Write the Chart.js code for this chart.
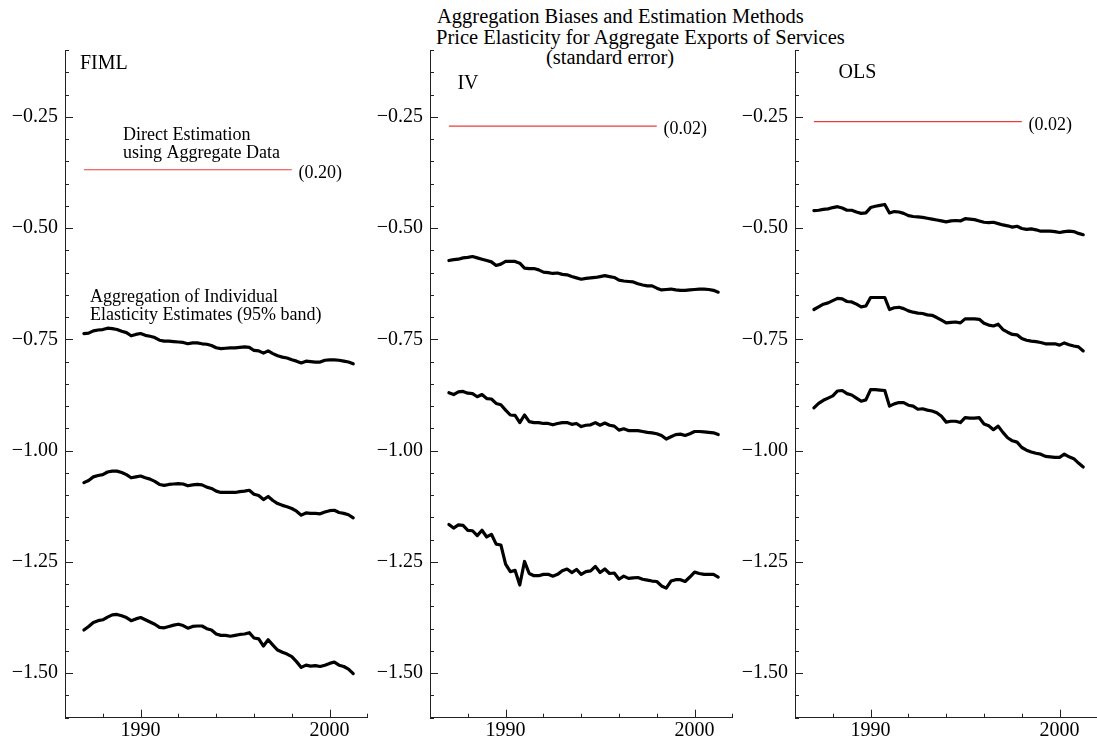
<!DOCTYPE html>
<html>
<head>
<meta charset="utf-8">
<title>Aggregation Biases and Estimation Methods</title>
<script src="https://cdn.jsdelivr.net/npm/chart.js@4.4.0/dist/chart.umd.min.js"></script>
<style>
  html, body { margin: 0; padding: 0; background: #fff; }
  body { width: 1097px; height: 749px; position: relative; overflow: hidden;
         font-family: "Liberation Serif", "Times New Roman", serif; color: #000; }
  canvas { position: absolute; top: 0; }
  .title { position: absolute; font-size: 20.5px; line-height: 20.5px; white-space: nowrap; }
</style>
</head>
<body>
<div class="title" style="left:437px; top:6px">Aggregation Biases and Estimation Methods</div>
<div class="title" style="left:436px; top:26.5px">Price Elasticity for Aggregate Exports of Services</div>
<div class="title" style="left:546px; top:47px">(standard error)</div>

<canvas id="fiml" width="369" height="749" style="left:0px"></canvas>
<canvas id="iv" width="369" height="749" style="left:364.5px"></canvas>
<canvas id="ols" width="369" height="749" style="left:730px"></canvas>

<script>
// quarterly observations, 1987Q1 .. 2001Q2
const quarters = Array.from({ length: 58 }, (_, i) => 1987 + i * 0.25);

// FIML: aggregation of individual estimates (upper / centre / lower of 95% band)
const fimlUpper = [-0.737,-0.736,-0.731,-0.729,-0.728,-0.725,-0.726,-0.728,-0.732,-0.735,
  -0.742,-0.739,-0.737,-0.741,-0.743,-0.746,-0.752,-0.754,-0.754,-0.755,
  -0.756,-0.757,-0.760,-0.758,-0.758,-0.760,-0.761,-0.764,-0.769,-0.771,
  -0.770,-0.769,-0.769,-0.768,-0.767,-0.768,-0.775,-0.776,-0.781,-0.776,
  -0.782,-0.787,-0.790,-0.792,-0.796,-0.799,-0.803,-0.799,-0.800,-0.801,
  -0.801,-0.797,-0.796,-0.796,-0.797,-0.799,-0.801,-0.805];
const fimlMid = [-1.072,-1.067,-1.059,-1.056,-1.054,-1.048,-1.046,-1.046,-1.049,-1.054,
  -1.061,-1.059,-1.057,-1.061,-1.064,-1.069,-1.076,-1.078,-1.076,-1.075,
  -1.074,-1.075,-1.079,-1.077,-1.076,-1.077,-1.082,-1.085,-1.091,-1.094,
  -1.094,-1.094,-1.094,-1.092,-1.091,-1.089,-1.098,-1.101,-1.110,-1.103,
  -1.112,-1.119,-1.123,-1.126,-1.130,-1.136,-1.145,-1.140,-1.141,-1.141,
  -1.142,-1.138,-1.135,-1.134,-1.139,-1.141,-1.144,-1.151];
const fimlLower = [-1.403,-1.395,-1.386,-1.382,-1.380,-1.374,-1.369,-1.368,-1.371,-1.375,
  -1.382,-1.378,-1.375,-1.380,-1.385,-1.390,-1.397,-1.398,-1.395,-1.392,
  -1.390,-1.393,-1.399,-1.395,-1.394,-1.394,-1.400,-1.403,-1.412,-1.415,
  -1.415,-1.417,-1.415,-1.413,-1.412,-1.409,-1.421,-1.423,-1.439,-1.425,
  -1.437,-1.448,-1.453,-1.457,-1.463,-1.474,-1.487,-1.482,-1.484,-1.483,
  -1.485,-1.482,-1.478,-1.475,-1.482,-1.485,-1.491,-1.501];

// IV
const ivUpper = [-0.573,-0.571,-0.570,-0.567,-0.566,-0.564,-0.567,-0.570,-0.573,-0.576,
  -0.584,-0.581,-0.575,-0.575,-0.575,-0.579,-0.590,-0.591,-0.591,-0.594,
  -0.599,-0.600,-0.602,-0.601,-0.604,-0.605,-0.609,-0.612,-0.615,-0.613,
  -0.612,-0.611,-0.609,-0.607,-0.609,-0.611,-0.617,-0.619,-0.620,-0.621,
  -0.625,-0.628,-0.630,-0.630,-0.635,-0.639,-0.638,-0.637,-0.639,-0.640,
  -0.640,-0.639,-0.638,-0.637,-0.637,-0.638,-0.640,-0.644];
const ivMid = [-0.870,-0.874,-0.868,-0.867,-0.871,-0.872,-0.879,-0.874,-0.883,-0.884,
  -0.894,-0.897,-0.909,-0.920,-0.921,-0.937,-0.920,-0.935,-0.937,-0.937,
  -0.939,-0.939,-0.942,-0.939,-0.937,-0.937,-0.941,-0.939,-0.946,-0.943,
  -0.942,-0.937,-0.943,-0.938,-0.943,-0.945,-0.954,-0.951,-0.955,-0.955,
  -0.955,-0.957,-0.959,-0.960,-0.962,-0.966,-0.974,-0.969,-0.964,-0.963,
  -0.966,-0.962,-0.957,-0.957,-0.958,-0.959,-0.960,-0.964];
const ivLower = [-1.166,-1.174,-1.167,-1.168,-1.179,-1.180,-1.191,-1.179,-1.194,-1.188,
  -1.210,-1.212,-1.255,-1.272,-1.269,-1.302,-1.249,-1.276,-1.281,-1.281,
  -1.278,-1.278,-1.282,-1.278,-1.270,-1.266,-1.274,-1.267,-1.278,-1.272,
  -1.270,-1.260,-1.274,-1.266,-1.276,-1.275,-1.289,-1.282,-1.287,-1.286,
  -1.285,-1.289,-1.291,-1.293,-1.294,-1.304,-1.309,-1.293,-1.290,-1.290,
  -1.294,-1.284,-1.273,-1.276,-1.278,-1.278,-1.278,-1.284];

// OLS
const olsUpper = [-0.461,-0.460,-0.458,-0.457,-0.454,-0.452,-0.455,-0.460,-0.460,-0.464,
  -0.467,-0.466,-0.454,-0.451,-0.449,-0.447,-0.466,-0.463,-0.464,-0.467,
  -0.472,-0.474,-0.475,-0.476,-0.478,-0.480,-0.482,-0.484,-0.486,-0.484,
  -0.483,-0.484,-0.479,-0.480,-0.481,-0.484,-0.487,-0.488,-0.487,-0.490,
  -0.493,-0.495,-0.498,-0.496,-0.501,-0.503,-0.502,-0.504,-0.507,-0.507,
  -0.507,-0.508,-0.510,-0.508,-0.507,-0.508,-0.512,-0.515];
const olsMid = [-0.683,-0.677,-0.671,-0.668,-0.663,-0.658,-0.659,-0.665,-0.666,-0.671,
  -0.677,-0.675,-0.656,-0.656,-0.656,-0.656,-0.683,-0.679,-0.678,-0.681,
  -0.686,-0.689,-0.691,-0.692,-0.695,-0.696,-0.701,-0.707,-0.713,-0.712,
  -0.711,-0.713,-0.704,-0.704,-0.704,-0.705,-0.714,-0.718,-0.720,-0.716,
  -0.728,-0.734,-0.739,-0.740,-0.748,-0.752,-0.754,-0.755,-0.757,-0.760,
  -0.760,-0.760,-0.763,-0.758,-0.762,-0.765,-0.767,-0.776];
const olsLower = [-0.904,-0.894,-0.887,-0.882,-0.877,-0.866,-0.865,-0.872,-0.875,-0.882,
  -0.889,-0.886,-0.863,-0.863,-0.864,-0.865,-0.900,-0.895,-0.892,-0.892,
  -0.898,-0.900,-0.907,-0.906,-0.909,-0.911,-0.915,-0.923,-0.936,-0.934,
  -0.934,-0.937,-0.926,-0.927,-0.927,-0.926,-0.940,-0.944,-0.953,-0.945,
  -0.959,-0.971,-0.978,-0.981,-0.993,-0.999,-1.003,-1.006,-1.008,-1.013,
  -1.014,-1.015,-1.015,-1.008,-1.014,-1.018,-1.028,-1.037];

// direct estimation on aggregate data: FIML, IV, OLS (and std. errors)
const directEst = [-0.369, -0.271, -0.261];
const directSE = ['(0.20)', '(0.02)', '(0.02)'];
const directSpan = [1987, 1998];

const FONT = '"Liberation Serif", "Times New Roman", serif';
const AXIS = '#222';
Chart.defaults.font.family = FONT;
Chart.defaults.color = '#000';

const isMajor = v => Math.abs(v * 4 - Math.round(v * 4)) < 1e-6;

// ticks drawn inward, long at labelled values
const inwardTicks = {
  id: 'inwardTicks',
  afterDraw(chart) {
    const { ctx, chartArea: a, scales: { x, y } } = chart;
    ctx.save();
    ctx.strokeStyle = AXIS;
    ctx.lineWidth = 1;
    ctx.beginPath();
    y.ticks.forEach(t => {
      const py = Math.round(y.getPixelForValue(t.value)) + 0.5;
      ctx.moveTo(a.left, py);
      ctx.lineTo(a.left + (isMajor(t.value) ? 8 : 4), py);
    });
    x.ticks.forEach(t => {
      const px = Math.round(x.getPixelForValue(t.value)) + 0.5;
      ctx.moveTo(px, a.bottom);
      ctx.lineTo(px, a.bottom - (t.value % 10 === 0 ? 8 : 4));
    });
    ctx.stroke();
    ctx.restore();
  }
};

const notes = {
  id: 'notes',
  afterDraw(chart, args, opts) {
    const { ctx, scales: { x, y } } = chart;
    ctx.save();
    ctx.fillStyle = '#000';
    ctx.textAlign = 'left';
    ctx.textBaseline = 'middle';
    (opts.items || []).forEach(n => {
      ctx.font = n.size + 'px ' + FONT;
      ctx.fillText(n.text, x.getPixelForValue(n.x), y.getPixelForValue(n.y));
    });
    ctx.restore();
  }
};

function makePanel(id, series, k, items) {
  const lines = series.map(s => ({
    data: quarters.map((q, i) => ({ x: q, y: s[i] })),
    borderColor: '#000',
    borderWidth: 3.2,
    pointRadius: 0,
    tension: 0,
    borderJoinStyle: 'round',
    borderCapStyle: 'round'
  }));
  lines.push({
    data: directSpan.map(q => ({ x: q, y: directEst[k] })),
    borderColor: '#f03a3a',
    borderWidth: 1.2,
    pointRadius: 0
  });
  items.push({ text: directSE[k], x: 1998.35, y: directEst[k] - 0.008, size: 18 });

  new Chart(document.getElementById(id), {
    type: 'line',
    data: { datasets: lines },
    plugins: [inwardTicks, notes],
    options: {
      responsive: false,
      animation: false,
      devicePixelRatio: 1,
      layout: { padding: { top: 50, right: 1.6, left: 0, bottom: 0 } },
      plugins: { legend: { display: false }, tooltip: { enabled: false }, notes: { items } },
      scales: {
        x: {
          type: 'linear', min: 1986, max: 2002,
          grid: { display: false, drawTicks: false },
          border: { display: true, color: AXIS, width: 1 },
          ticks: {
            stepSize: 2, autoSkip: false, maxRotation: 0, padding: 1,
            font: { family: FONT, size: 20 },
            callback: v => (v % 10 === 0 ? String(v) : '')
          },
          afterFit: s => { s.height = 31.3; }
        },
        y: {
          type: 'linear', min: -1.6, max: -0.1,
          grid: { display: false, drawTicks: false },
          border: { display: true, color: AXIS, width: 1 },
          ticks: {
            stepSize: 0.05, autoSkip: false, padding: 7,
            font: { family: FONT, size: 20 },
            callback: v => (isMajor(v) ? '\u2212' + Math.abs(v).toFixed(2) : '')
          },
          afterFit: s => { s.width = 65; }
        }
      }
    }
  });
}

makePanel('fiml', [fimlUpper, fimlMid, fimlLower], 0, [
  { text: 'FIML', x: 1986.79, y: -0.130, size: 20 },
  { text: 'Direct Estimation', x: 1989.07, y: -0.292, size: 18 },
  { text: 'using Aggregate Data', x: 1989.07, y: -0.332, size: 18 },
  { text: 'Aggregation of Individual', x: 1987.32, y: -0.656, size: 18 },
  { text: 'Elasticity Estimates (95% band)', x: 1987.32, y: -0.696, size: 18 }
]);
makePanel('iv', [ivUpper, ivMid, ivLower], 1, [
  { text: 'IV', x: 1987.45, y: -0.175, size: 20 }
]);
makePanel('ols', [olsUpper, olsMid, olsLower], 2, [
  { text: 'OLS', x: 1988.3, y: -0.150, size: 20 }
]);
</script>
</body>
</html>
